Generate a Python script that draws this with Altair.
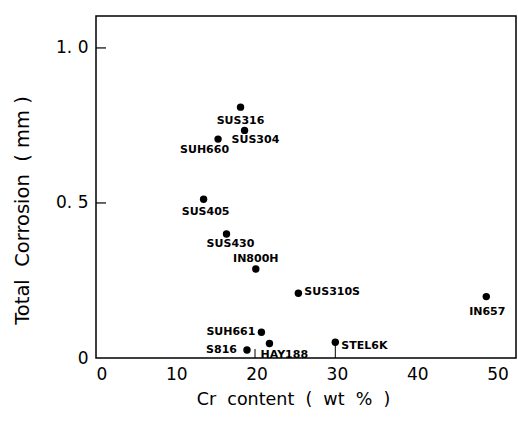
import altair as alt
import pandas as pd

names = ["SUS316", "SUS304", "SUH660", "SUS405", "SUS430", "IN800H",
         "SUS310S", "SUH661", "S816", "HAY188", "STEL6K", "IN657"]
cr = [18.0, 18.5, 15.2, 13.4, 16.25, 19.9, 25.2, 20.6, 18.8, 21.6, 29.8, 48.6]
corr = [0.809, 0.734, 0.706, 0.512, 0.400, 0.287, 0.209, 0.083, 0.026, 0.047, 0.051, 0.198]
x_ticks = [0, 10, 20, 30, 40, 50]
y_ticks = [0, 0.5, 1.0]
inner_ticks = [0.5, 1.0]
leader_x = [19.8, 29.8]
leader_top = [0.029, 0.051]

# label placement relative to each point (dx, dy in pixels, align)
place = {
    "SUS316": (0, 14, "center"),
    "SUS304": (-13, 10, "left"),
    "SUH660": (11, 11, "right"),
    "SUS405": (2, 13, "center"),
    "SUS430": (4, 10, "center"),
    "IN800H": (0, -10, "center"),
    "SUS310S": (6, -1, "left"),
    "SUH661": (-6, 0, "right"),
    "S816": (-10, 0, "right"),
    "HAY188": (-9, 12, "left"),
    "STEL6K": (6, 4, "left"),
    "IN657": (1, 15, "center"),
}

df = pd.DataFrame({"name": names, "cr": cr, "corr": corr})
ticks_df = pd.DataFrame({"v": inner_ticks})
lead_df = pd.DataFrame({"x": leader_x, "top": leader_top, "bot": [0] * len(leader_x)})

FONT = "DejaVu Sans"
NB = "\u00a0"
S2 = NB + NB

xs = alt.Scale(domain=[0, 52.3], nice=False, zero=False)
ys = alt.Scale(domain=[0, 1.103], nice=False, zero=False)

xax = alt.Axis(values=x_ticks, title=f"Cr{S2}content{S2}({S2}wt{S2}%{S2})",
               labelFontSize=17, labelPadding=8, titleFontSize=17.5, titleX=197, titleY=41,
               titleBaseline="middle", labelFont=FONT, titleFont=FONT,
               titleFontWeight="normal", labelColor="black", titleColor="black")
yax = alt.Axis(values=y_ticks, title=f"Total{S2}Corrosion{S2}({NB}mm{NB})",
               labelFontSize=17, labelPadding=8, titleFontSize=19.5, titleX=-74, titleY=194,
               titleBaseline="middle", titleAngle=-90, titleAlign="center",
               labelFont=FONT, titleFont=FONT, titleFontWeight="normal",
               labelExpr="datum.value == 0 ? '0' : replace(format(datum.value, '.1f'), '.', '. ')",
               labelColor="black", titleColor="black")

base = alt.Chart(df)
points = base.mark_circle(size=55, color="black", opacity=1).encode(
    x=alt.X("cr:Q", scale=xs, axis=xax),
    y=alt.Y("corr:Q", scale=ys, axis=yax),
)

layers = [points]
for n in names:
    dx, dy, al = place[n]
    layers.append(
        base.transform_filter(alt.datum.name == n).mark_text(
            dx=dx, dy=dy, align=al, baseline="middle", font="DejaVu Sans",
            fontWeight="bold", fontSize=11, color="black"
        ).encode(x=alt.X("cr:Q", scale=xs), y=alt.Y("corr:Q", scale=ys), text="name:N")
    )

tick_rules = alt.Chart(ticks_df).mark_rule(color="black", strokeWidth=1.2).encode(
    x=alt.value(0), x2=alt.value(10), y=alt.Y("v:Q", scale=ys)
)
leaders = alt.Chart(lead_df).mark_rule(color="black", strokeWidth=1).encode(
    x=alt.X("x:Q", scale=xs), y=alt.Y("top:Q", scale=ys), y2="bot:Q"
)
layers += [tick_rules, leaders]

chart = alt.layer(*layers).properties(
    width=420, height=342,
    autosize=alt.AutoSizeParams(type="none"),
    padding={"left": 96, "top": 16, "right": 2, "bottom": 67},
    background="white",
).configure_view(stroke="black", strokeWidth=1.5).configure_axis(
    domain=False, grid=False, ticks=False
)

chart.save("out.html", embed_options={"renderer": "svg", "actions": False})
